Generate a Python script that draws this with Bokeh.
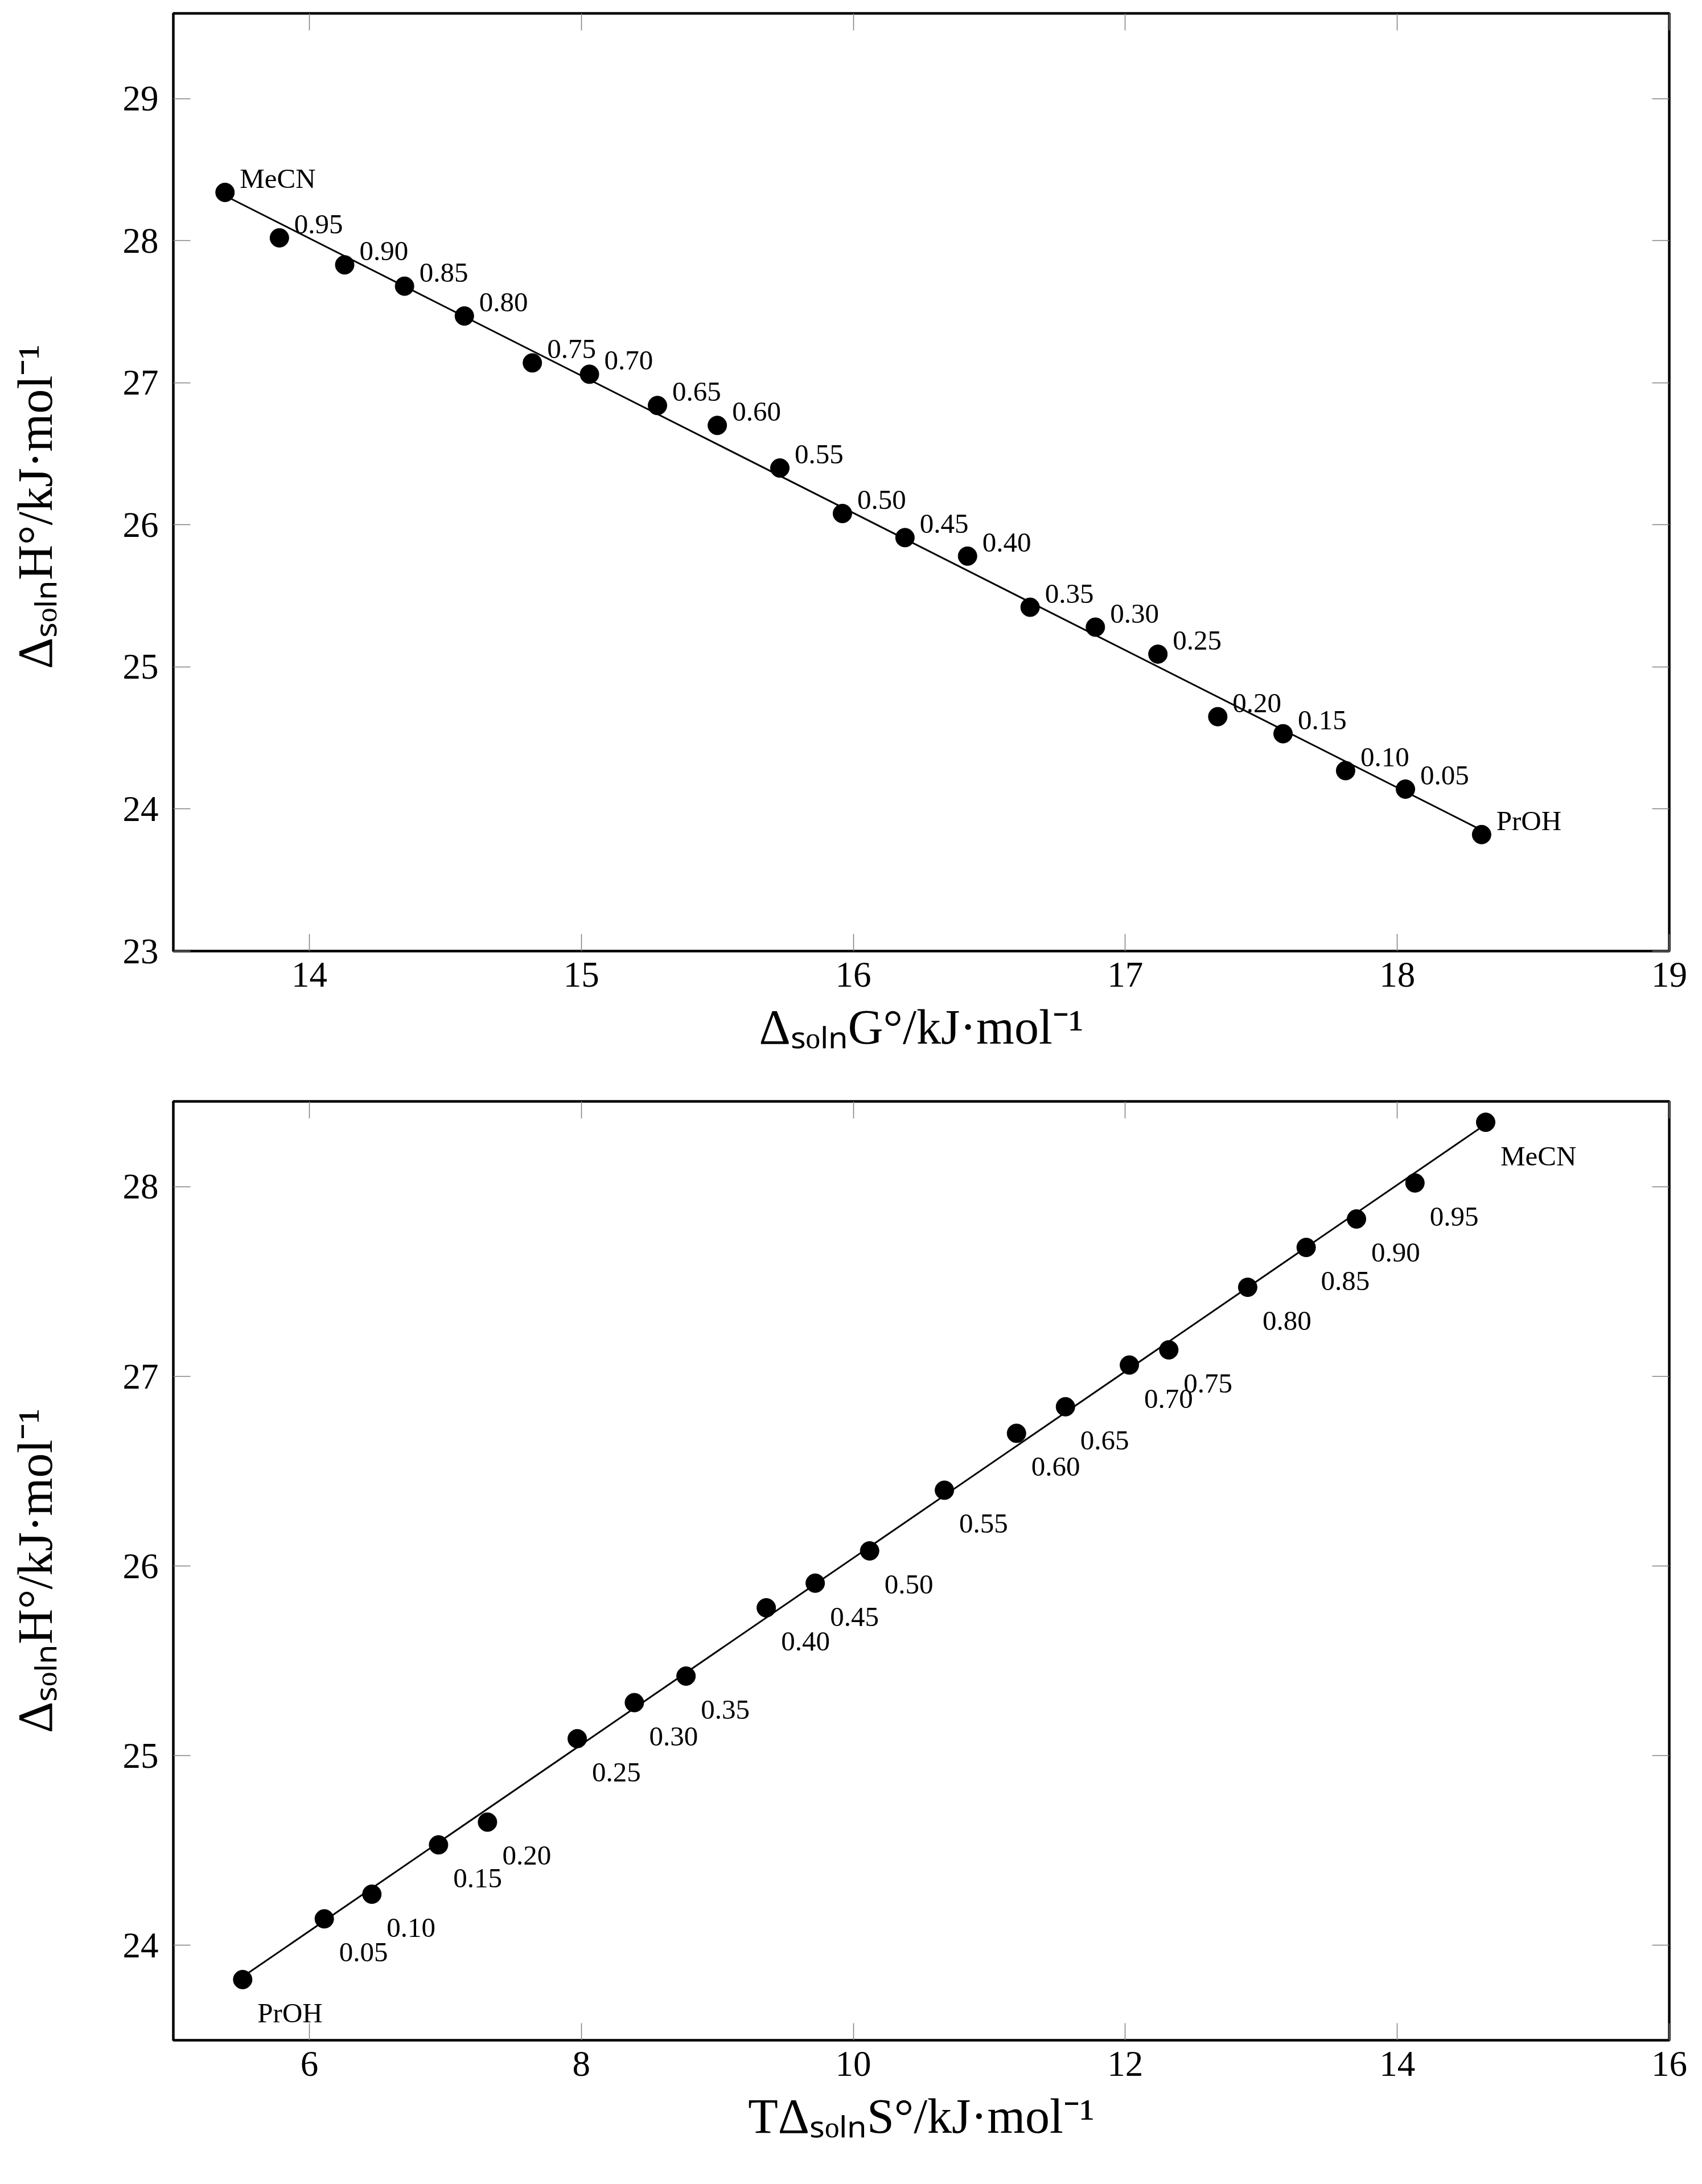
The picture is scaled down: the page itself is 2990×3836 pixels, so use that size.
import numpy as np
from bokeh.plotting import figure
from bokeh.models import Range1d, FixedTicker, LinearAxis, ColumnDataSource
from bokeh.layouts import column
from bokeh.embed import file_html
from bokeh.resources import INLINE
from bokeh.core.properties import value

# ---- data ----
point_labels = ["MeCN", "0.95", "0.90", "0.85", "0.80", "0.75", "0.70", "0.65", "0.60",
                "0.55", "0.50", "0.45", "0.40", "0.35", "0.30", "0.25", "0.20", "0.15",
                "0.10", "0.05", "PrOH"]
dG_soln = [13.69, 13.89, 14.13, 14.35, 14.57, 14.82, 15.03, 15.28, 15.50, 15.73, 15.96,
           16.19, 16.42, 16.65, 16.89, 17.12, 17.34, 17.58, 17.81, 18.03, 18.31]
dH_soln = [28.34, 28.02, 27.83, 27.68, 27.47, 27.14, 27.06, 26.84, 26.70, 26.40, 26.08,
           25.91, 25.78, 25.42, 25.28, 25.09, 24.65, 24.53, 24.27, 24.14, 23.82]
TdS_soln = [14.65, 14.13, 13.70, 13.33, 12.90, 12.32, 12.03, 11.56, 11.20, 10.67, 10.12,
            9.72, 9.36, 8.77, 8.39, 7.97, 7.31, 6.95, 6.46, 6.11, 5.51]

top_xticks = [14, 15, 16, 17, 18, 19]
top_yticks = [23, 24, 25, 26, 27, 28, 29]
bot_xticks = [6, 8, 10, 12, 14, 16]
bot_yticks = [24, 25, 26, 27, 28]

x_label_top = "ΔₛₒₗₙG°/kJ·mol⁻¹"
x_label_bot = "TΔₛₒₗₙS°/kJ·mol⁻¹"
y_label = "ΔₛₒₗₙH°/kJ·mol⁻¹"

FONT = "Liberation Serif"
TICK_COLOR = "#808080"


def style_axis(ax, ticks):
    ax.ticker = FixedTicker(ticks=ticks)
    ax.axis_line_color = None
    ax.major_tick_in = 30
    ax.major_tick_out = 0
    ax.major_tick_line_color = TICK_COLOR
    ax.major_tick_line_width = 1.5
    ax.minor_tick_line_color = None
    ax.major_label_text_font = FONT
    ax.major_label_text_font_size = "63px"
    ax.major_label_text_color = "black"
    ax.axis_label_text_font = FONT
    ax.axis_label_text_font_style = "normal"
    ax.axis_label_text_font_size = "86px"
    ax.axis_label_text_color = "black"


def mirror_axis(ticks):
    # ticks only (drawn as minor ticks, so no labels are produced)
    ax = LinearAxis(ticker=FixedTicker(ticks=[], minor_ticks=ticks))
    ax.axis_line_color = None
    ax.major_tick_line_color = None
    ax.minor_tick_in = 30
    ax.minor_tick_out = 0
    ax.minor_tick_line_color = TICK_COLOR
    ax.minor_tick_line_width = 1.5
    ax.major_label_standoff = 0
    return ax


def make_fig(xs, ys, xr, yr, xticks, yticks, xlabel, ylabel, height, btop, bbot,
             lab_dx, lab_dy):
    p = figure(width=2974, height=height, x_range=Range1d(*xr), y_range=Range1d(*yr),
               output_backend="svg", toolbar_location=None,
               min_border_left=304, min_border_right=42,
               min_border_top=btop, min_border_bottom=bbot)
    p.grid.visible = False
    p.background_fill_color = "white"
    p.border_fill_color = "white"
    p.outline_line_color = "black"
    p.outline_line_width = 4.5

    style_axis(p.xaxis[0], xticks)
    style_axis(p.yaxis[0], yticks)
    p.xaxis[0].axis_label = xlabel
    p.yaxis[0].axis_label = ylabel
    p.xaxis[0].major_label_standoff = 20
    p.yaxis[0].major_label_standoff = 26
    p.xaxis[0].axis_label_standoff = 20
    p.yaxis[0].axis_label_standoff = 103

    p.add_layout(mirror_axis(xticks), "above")
    p.add_layout(mirror_axis(yticks), "right")

    # linear fit line through the data
    slope, icpt = np.polyfit(np.array(xs), np.array(ys), 1)
    fx = np.array([min(xs), max(xs)])
    p.line(fx, slope * fx + icpt, line_color="black", line_width=3)

    src = ColumnDataSource(dict(x=xs, y=ys, t=point_labels))
    p.scatter("x", "y", source=src, size=33, fill_color="black", line_color="black")
    p.text("x", "y", text="t", source=src, text_font=value(FONT), text_font_size="49px",
           text_align="left", text_baseline="alphabetic", x_offset=lab_dx, y_offset=lab_dy,
           text_color="black")
    return p


p1 = make_fig(dG_soln, dH_soln, (13.5, 19.0), (23.0, 29.6), top_xticks, top_yticks,
              x_label_top, y_label + "\u00a0\u00a0\u00a0\u00a0", 1902, 23, 232, 26, -24)
p2 = make_fig(TdS_soln, dH_soln, (5.0, 16.0), (23.5, 28.45), bot_xticks, bot_yticks,
              x_label_bot, y_label, 1918, 32, 237, 26, 59)

layout = column(p1, p2, spacing=0)
open("out.html", "w").write(file_html(layout, INLINE))
